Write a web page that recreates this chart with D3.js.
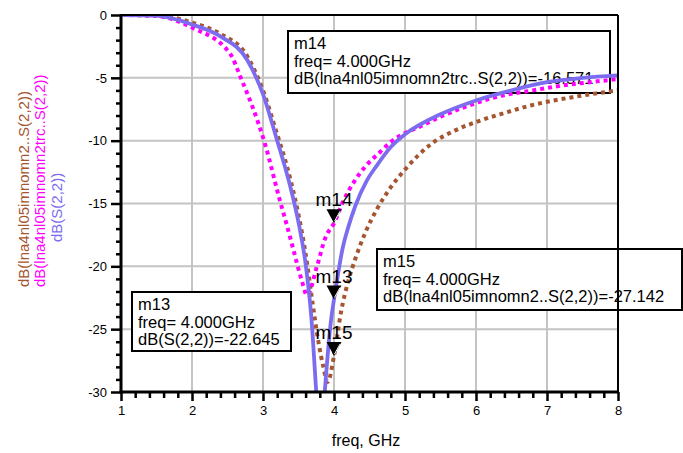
<!DOCTYPE html>
<html>
<head>
<meta charset="utf-8">
<script src="https://cdn.jsdelivr.net/npm/d3@7"></script>
<style>
  body { margin: 0; background: #fff; }
  svg { display: block; font-family: "Liberation Sans", Arial, sans-serif; }
</style>
</head>
<body>
<div id="chart"></div>
<script>
// traces (freq in GHz, dB)
var s22Freq = [1.0, 1.5, 2.0, 2.4, 2.78, 3.0, 3.2, 3.3, 3.4, 3.5, 3.6, 3.68, 3.75, 3.81, 3.87, 3.96, 4.0, 4.06, 4.12, 4.2, 4.3, 4.46, 4.6, 4.8, 5.0, 5.5, 6.0, 6.5, 7.0, 7.5, 8.0];
var s22dB   = [0, -0.05, -0.75, -1.7, -3.6, -6.3, -10.0, -11.9, -14.0, -16.5, -19.8, -24.0, -30, -35, -30, -24.2, -22.645, -20.5, -18.6, -16.9, -15.2, -13.2, -12.0, -10.5, -9.5, -7.9, -6.8, -6.0, -5.35, -5.0, -4.8];

var trcFreq = [1.0, 1.5, 2.0, 2.54, 2.68, 3.03, 3.24, 3.31, 3.42, 3.55, 3.62, 3.76, 3.88, 4.0, 4.14, 4.28, 4.45, 4.65, 4.8, 5.0, 5.2, 5.5, 5.9, 6.3, 6.8, 7.23, 7.6, 8.0];
var trcdB   = [0, -0.08, -1.0, -3.1, -4.9, -10.3, -14.8, -16.2, -18.5, -21.2, -22.3, -20.0, -17.7, -16.571, -14.7, -13.3, -12.0, -10.9, -10.1, -9.4, -8.9, -8.1, -7.2, -6.5, -6.0, -5.6, -5.35, -5.1];

var lnaFreq = [1.0, 1.5, 2.0, 2.4, 2.78, 3.0, 3.2, 3.3, 3.4, 3.5, 3.6, 3.7, 3.78, 3.85, 3.91, 4.0, 4.1, 4.2, 4.3, 4.45, 4.6, 4.8, 5.0, 5.36, 5.7, 6.06, 6.4, 6.77, 7.4, 8.0];
var lnadB   = [0, -0.03, -0.6, -1.5, -3.3, -6.0, -9.5, -11.3, -13.4, -15.9, -19.0, -23.0, -26.0, -28.0, -29.2, -27.142, -23.6, -21.2, -19.4, -17.2, -15.5, -13.7, -12.3, -10.3, -9.2, -8.4, -7.8, -7.2, -6.5, -6.0];

var xTicks = [1, 2, 3, 4, 5, 6, 7, 8];
var yTicks = [0, -5, -10, -15, -20, -25, -30];

var markerNames  = ["m13", "m14", "m15"];
var markerFreq   = [4.0, 4.0, 4.0];
var markerValues = [-22.645, -16.571, -27.142];
var markerTraces = ["dB(S(2,2))", "dB(lna4nl05imnomn2trc..S(2,2))", "dB(lna4nl05imnomn2..S(2,2))"];

var width = 683, height = 453;

var svg = d3.select("#chart").append("svg")
  .attr("width", width)
  .attr("height", height);

var x = d3.scaleLinear().domain([1, 8]).range([121, 618]);
var y = d3.scaleLinear().domain([-30, 0]).range([392, 15]);

// grid
svg.append("g").selectAll("line")
  .data(xTicks.slice(1, -1))
  .enter().append("line")
  .attr("x1", d => x(d)).attr("x2", d => x(d))
  .attr("y1", y(0)).attr("y2", y(-30))
  .attr("stroke", "#c4c4c4").attr("stroke-width", 2);

svg.append("g").selectAll("line")
  .data(yTicks.slice(1, -1))
  .enter().append("line")
  .attr("x1", x(1)).attr("x2", x(8))
  .attr("y1", d => y(d)).attr("y2", d => y(d))
  .attr("stroke", "#c4c4c4").attr("stroke-width", 2);

// marker readout boxes
var boxes = [
  {x: 132, y: 292, w: 159, h: 59},
  {x: 288, y: 31, w: 322, h: 62},
  {x: 377, y: 249, w: 305, h: 61}
];

boxes.forEach(function(b, i) {
  var g = svg.append("g").attr("transform", "translate(" + b.x + "," + b.y + ")");
  g.append("rect")
    .attr("width", b.w).attr("height", b.h)
    .attr("fill", "#fff").attr("stroke", "#000").attr("stroke-width", 2);
  var lines = [markerNames[i],
    "freq= " + markerFreq[i].toFixed(3) + "GHz",
    markerTraces[i] + "=" + markerValues[i].toFixed(3)];
  g.selectAll("text").data(lines).enter().append("text")
    .attr("x", 6)
    .attr("y", (d, j) => 18 + j * 17.5)
    .style("font-size", "16.5px")
    .text(d => d);
});

// traces
svg.append("clipPath").attr("id", "plotclip")
  .append("rect")
  .attr("x", x(1)).attr("y", y(0))
  .attr("width", x(8) - x(1)).attr("height", y(-30) - y(0));

var line = d3.line()
  .x(d => x(d[0]))
  .y(d => y(d[1]))
  .curve(d3.curveMonotoneX);

var traces = [
  {f: lnaFreq, v: lnadB, color: "#a5552f", w: 4, dash: "4,4"},
  {f: trcFreq, v: trcdB, color: "#ff00ff", w: 4, dash: "4,4"},
  {f: s22Freq, v: s22dB, color: "#7b6cf0", w: 3.8, dash: null}
];

var plot = svg.append("g").attr("clip-path", "url(#plotclip)");
traces.forEach(function(t) {
  plot.append("path")
    .datum(d3.zip(t.f, t.v))
    .attr("fill", "none")
    .attr("stroke", t.color)
    .attr("stroke-width", t.w)
    .attr("stroke-dasharray", t.dash)
    .attr("d", line);
});

// axes
var yAxis = svg.append("g")
  .attr("transform", "translate(" + x(1) + ",0)")
  .call(d3.axisLeft(y).tickValues(yTicks).tickSize(10).tickPadding(4).tickFormat(d => String(d)));
var yMinor = svg.append("g")
  .attr("transform", "translate(" + x(1) + ",0)")
  .call(d3.axisLeft(y).tickValues(d3.range(-29, 0, 1).filter(d => d % 5 != 0)).tickSize(5).tickFormat(""));

var xAxis = svg.append("g")
  .attr("transform", "translate(0," + y(-30) + ")")
  .call(d3.axisBottom(x).tickValues(xTicks).tickSize(9).tickPadding(5).tickFormat(d => String(d)));
var xMinor = svg.append("g")
  .attr("transform", "translate(0," + y(-30) + ")")
  .call(d3.axisBottom(x).tickValues(d3.range(1.2, 8, 0.2).filter(d => Math.abs(d - Math.round(d)) > 0.01)).tickSize(6).tickFormat(""));

[yAxis, yMinor, xAxis, xMinor].forEach(function(a) {
  a.select(".domain").remove();
  a.selectAll(".tick line").attr("stroke", "#000").attr("stroke-width", 2.5);
  a.selectAll("text").style("font-size", "13px").style("font-family", "Liberation Sans, Arial, sans-serif").attr("fill", "#000");
});

// frame
svg.append("line").attr("x1", x(1)).attr("x2", x(8)).attr("y1", y(0)).attr("y2", y(0))
  .attr("stroke", "#000").attr("stroke-width", 2);
svg.append("line").attr("x1", x(8)).attr("x2", x(8)).attr("y1", y(0)).attr("y2", y(-30))
  .attr("stroke", "#000").attr("stroke-width", 2);
svg.append("line").attr("x1", x(1)).attr("x2", x(1)).attr("y1", y(0) - 1).attr("y2", y(-30) + 1.5)
  .attr("stroke", "#000").attr("stroke-width", 3);
svg.append("line").attr("x1", x(1) - 1.5).attr("x2", x(8) + 1).attr("y1", y(-30)).attr("y2", y(-30))
  .attr("stroke", "#000").attr("stroke-width", 3);

// markers
markerNames.forEach(function(name, i) {
  var px = x(markerFreq[i]), py = y(markerValues[i]);
  var g = svg.append("g");
  g.append("path")
    .attr("d", "M" + px + "," + py + "L" + (px - 7.5) + "," + (py - 14) + "L" + (px + 7.5) + "," + (py - 14) + "Z")
    .attr("fill", "#000");
  g.append("line")
    .attr("x1", px + 0.5).attr("y1", py - 2)
    .attr("x2", px + 6).attr("y2", py - 12)
    .attr("stroke", "#fff").attr("stroke-width", 1);
  g.append("text")
    .attr("x", px).attr("y", py - 17)
    .attr("text-anchor", "middle")
    .style("font-size", "19px")
    .text(name);
});

// axis titles
svg.append("text")
  .attr("x", 366).attr("y", 446)
  .attr("text-anchor", "middle")
  .style("font-size", "16px")
  .text("freq, GHz");

var yTitles = [
  {text: markerTraces[2], color: "#a5552f", x: 29, y: 287},
  {text: markerTraces[1], color: "#ff00ff", x: 45, y: 287},
  {text: markerTraces[0], color: "#7b6cf0", x: 62, y: 242}
];
svg.append("g").selectAll("text")
  .data(yTitles)
  .enter().append("text")
  .attr("transform", d => "translate(" + d.x + "," + d.y + ") rotate(-90)")
  .style("font-size", "15px")
  .attr("fill", d => d.color)
  .text(d => d.text);
</script>
</body>
</html>
